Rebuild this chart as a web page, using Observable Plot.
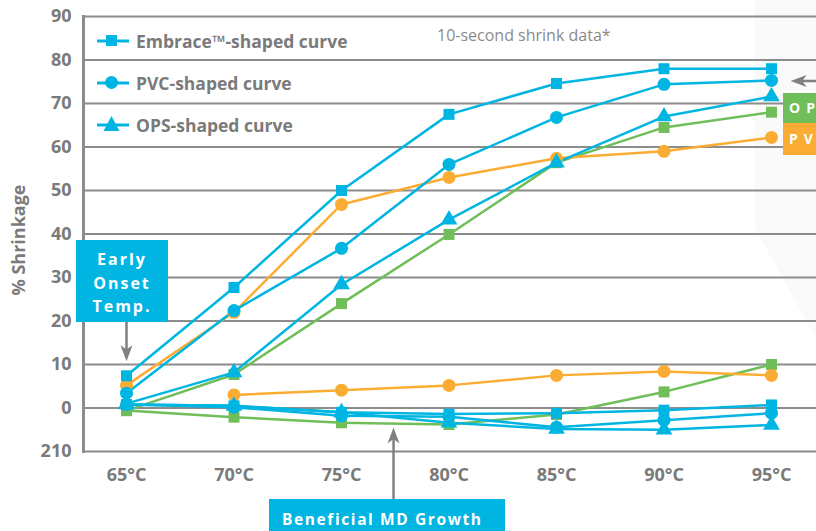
<!DOCTYPE html>
<html>
<head>
<meta charset="utf-8">
<script src="https://cdn.jsdelivr.net/npm/d3@7"></script>
<script src="https://cdn.jsdelivr.net/npm/@observablehq/plot@0.6"></script>
<style>
  html, body { margin: 0; padding: 0; background: #fff; }
  #wrap { position: relative; width: 816px; height: 531px; overflow: hidden; background: #fff; font-family: "Open Sans", sans-serif; }
  #wrap > svg { position: absolute; left: 0; top: 0; }
  .ov { position: absolute; box-sizing: border-box; }
  .box { background: #00b5e2; color: #fff; font-weight: 700; text-align: center; }
  .leg { position: absolute; left: 95px; height: 24px; display: flex; align-items: center; color: #7a7a7a; font-weight: 700; font-size: 17.5px; white-space: nowrap; }
  .leg svg { margin-right: 5px; }
</style>
</head>
<body>
<div id="wrap"></div>
<script>
// ---- data ----
const temps = [65, 70, 75, 80, 85, 90, 95];
const xTickLabels = ["65°C", "70°C", "75°C", "80°C", "85°C", "90°C", "95°C"];
const yTicks = [-10, 0, 10, 20, 30, 40, 50, 60, 70, 80, 90];
const yTickLabels = ["210", "0", "10", "20", "30", "40", "50", "60", "70", "80", "90"];

// cyan curves (upper = TD, lower = MD)
const embraceTD = [7.4, 27.7, 50, 67.5, 74.6, 78, 78];
const pvcCyanTD = [3.4, 22.4, 36.7, 56, 66.8, 74.4, 75.3];
const opsCyanTD = [1, 8.2, 28.4, 43.3, 56.4, 67, 71.6];
const embraceMD = [0.8, 0.5, -1, -1.4, -1.2, -0.5, 0.7];
const pvcCyanMD = [0.8, 0.2, -1.8, -2, -4.4, -2.8, -1.2];
const opsCyanMD = [0.8, 0.5, -1, -3.4, -4.8, -5, -3.9];
// orange curves
const pvcOrangeTD = [5.2, 22, 46.8, 53, 57.4, 59, 62.2];
const pvcOrangeMD = [null, 3, 4.1, 5.2, 7.5, 8.4, 7.5];
// green curves
const opsGreenTD = [-0.6, 7.7, 24, 39.9, 56.4, 64.5, 68];
const opsGreenMD = [-0.6, -2.1, -3.4, -3.8, -1.5, 3.7, 10];

const legendLabels = ["Embrace™-shaped curve", "PVC-shaped curve", "OPS-shaped curve"];

// ---- styles ----
const CYAN = "#00b5e2", ORANGE = "#fbad33", GREEN = "#6fbe5a", GRID = "#8c8c8c", ARROW = "#808080";

const rows = (vals) => temps.map((t, i) => ({t, v: vals[i]})).filter(d => d.v != null);

const arrowHead = {
  draw(ctx, size) {
    const r = Math.sqrt(size / Math.PI);
    ctx.moveTo(0, -r);
    ctx.lineTo(0.75 * r, r);
    ctx.lineTo(0, 0.45 * r);
    ctx.lineTo(-0.75 * r, r);
    ctx.closePath();
  }
};

const series = [
  {vals: opsGreenTD, color: GREEN, symbol: "square", r: 6.2},
  {vals: opsGreenMD, color: GREEN, symbol: "square", r: 6.2},
  {vals: pvcOrangeTD, color: ORANGE, symbol: "circle", r: 6.5},
  {vals: pvcOrangeMD, color: ORANGE, symbol: "circle", r: 6.5},
  {vals: opsCyanTD, color: CYAN, symbol: "triangle", r: 6.2},
  {vals: opsCyanMD, color: CYAN, symbol: "triangle", r: 6.2},
  {vals: pvcCyanTD, color: CYAN, symbol: "circle", r: 6.5},
  {vals: pvcCyanMD, color: CYAN, symbol: "circle", r: 6.5},
  {vals: embraceTD, color: CYAN, symbol: "square", r: 6.2},
  {vals: embraceMD, color: CYAN, symbol: "square", r: 6.2}
];

const marks = [
  Plot.ruleY(yTicks, {stroke: GRID, strokeWidth: 2}),
  Plot.frame({anchor: "left", stroke: GRID, strokeWidth: 3}),
  Plot.axisY({ticks: yTicks, tickFormat: d => yTickLabels[yTicks.indexOf(d)], tickSize: 0, tickPadding: 12, fontWeight: "bold", label: null}),
  Plot.axisX({ticks: temps, tickFormat: d => xTickLabels[temps.indexOf(d)], tickSize: 0, tickPadding: 17, fontWeight: "bold", label: null})
];
for (const s of series) {
  marks.push(Plot.line(rows(s.vals), {x: "t", y: "v", stroke: s.color, strokeWidth: 2.5}));
}
for (const s of series) {
  marks.push(Plot.dot(rows(s.vals), {x: "t", y: "v", fill: s.color, symbol: s.symbol, r: s.r}));
}
// annotation arrows (in data coordinates)
marks.push(
  Plot.ruleX([65], {y1: 19.7, y2: 13, stroke: ARROW, strokeWidth: 2.5}),
  Plot.dot([{x: 65, y: 12.6}], {x: "x", y: "y", symbol: arrowHead, r: 8, rotate: 180, fill: ARROW}),
  Plot.ruleX([77.42], {y1: -22, y2: -6.5, stroke: ARROW, strokeWidth: 2.5}),
  Plot.dot([{x: 77.42, y: -6.3}], {x: "x", y: "y", symbol: arrowHead, r: 8, rotate: 0, fill: ARROW}),
  Plot.ruleY([75.2], {x1: 96.2, x2: 98, stroke: ARROW, strokeWidth: 2.5}),
  Plot.dot([{x: 96.26, y: 75.2}], {x: "x", y: "y", symbol: arrowHead, r: 8, rotate: -90, fill: ARROW})
);

const plot = Plot.plot({
  width: 816,
  height: 531,
  marginLeft: 83,
  marginRight: 0,
  marginTop: 16,
  marginBottom: 80,
  x: {type: "linear", domain: [65, 95], range: [126, 771]},
  y: {type: "linear", domain: [-10, 90]},
  style: {fontFamily: "'Open Sans', sans-serif", fontSize: "18px", color: "#7a7a7a", background: "transparent", overflow: "visible"},
  marks
});

const wrap = document.getElementById("wrap");

// faint background panel at the right edge
const panel = document.createElement("div");
panel.className = "ov";
Object.assign(panel.style, {left: "755px", top: "0px", width: "61px", height: "531px", background: "#fafafa",
  clipPath: "polygon(0 0, 100% 0, 100% 338px, 0 228px)"});
wrap.appendChild(panel);

wrap.appendChild(plot);

function addDiv(cls, style, html) {
  const d = document.createElement("div");
  d.className = "ov " + cls;
  Object.assign(d.style, style);
  d.innerHTML = html;
  wrap.appendChild(d);
  return d;
}

// y label
addDiv("", {left: "-42px", top: "228px", width: "120px", height: "24px", transform: "rotate(-90deg)", textAlign: "center",
  color: "#7a7a7a", fontWeight: "700", fontSize: "18px", lineHeight: "24px"}, "% Shrinkage");

// subtitle
addDiv("", {left: "437px", top: "24px", color: "#8a8a8a", fontSize: "16px", lineHeight: "22px", whiteSpace: "nowrap"}, "10-second shrink data*");

// legend
const symSvg = {
  square: '<rect x="11" y="6" width="11" height="11" fill="' + CYAN + '"/>',
  circle: '<circle cx="16.5" cy="11.5" r="6.5" fill="' + CYAN + '"/>',
  triangle: '<path d="M16.5 3 L24.5 18 L8.5 18 Z" fill="' + CYAN + '"/>'
};
const legSyms = ["square", "circle", "triangle"];
const legY = [29, 71, 113];
legendLabels.forEach((lab, i) => {
  const d = document.createElement("div");
  d.className = "leg";
  d.style.top = legY[i] + "px";
  d.innerHTML = '<svg width="36" height="24"><line x1="2" x2="34" y1="12" y2="12" stroke="' + CYAN + '" stroke-width="3"/>' + symSvg[legSyms[i]] + '</svg>' + lab;
  wrap.appendChild(d);
});

// Early onset box
addDiv("box", {left: "76px", top: "240px", width: "92px", height: "82px", fontSize: "16px", lineHeight: "23.5px", paddingTop: "8px", letterSpacing: "2px"},
  "Early<br>Onset<br>Temp.");

// Beneficial MD Growth box
addDiv("box", {left: "269px", top: "499px", width: "236px", height: "40px", fontSize: "15.5px", lineHeight: "40px", letterSpacing: "1.6px", textAlign: "left", paddingLeft: "13px"},
  "Beneficial MD Growth");

// right boxes (their labels run past the picture's right edge, as in the reference)
addDiv("", {left: "783px", top: "93px", width: "60px", height: "30px", background: GREEN, color: "#fff", fontWeight: "700", fontSize: "14px", lineHeight: "30px", letterSpacing: "6px", paddingLeft: "6px", whiteSpace: "nowrap"}, "OPS");
addDiv("", {left: "783px", top: "123px", width: "60px", height: "32px", background: ORANGE, color: "#fff", fontWeight: "700", fontSize: "14px", lineHeight: "32px", letterSpacing: "6px", paddingLeft: "6px", whiteSpace: "nowrap"}, "PVC");
</script>
</body>
</html>
